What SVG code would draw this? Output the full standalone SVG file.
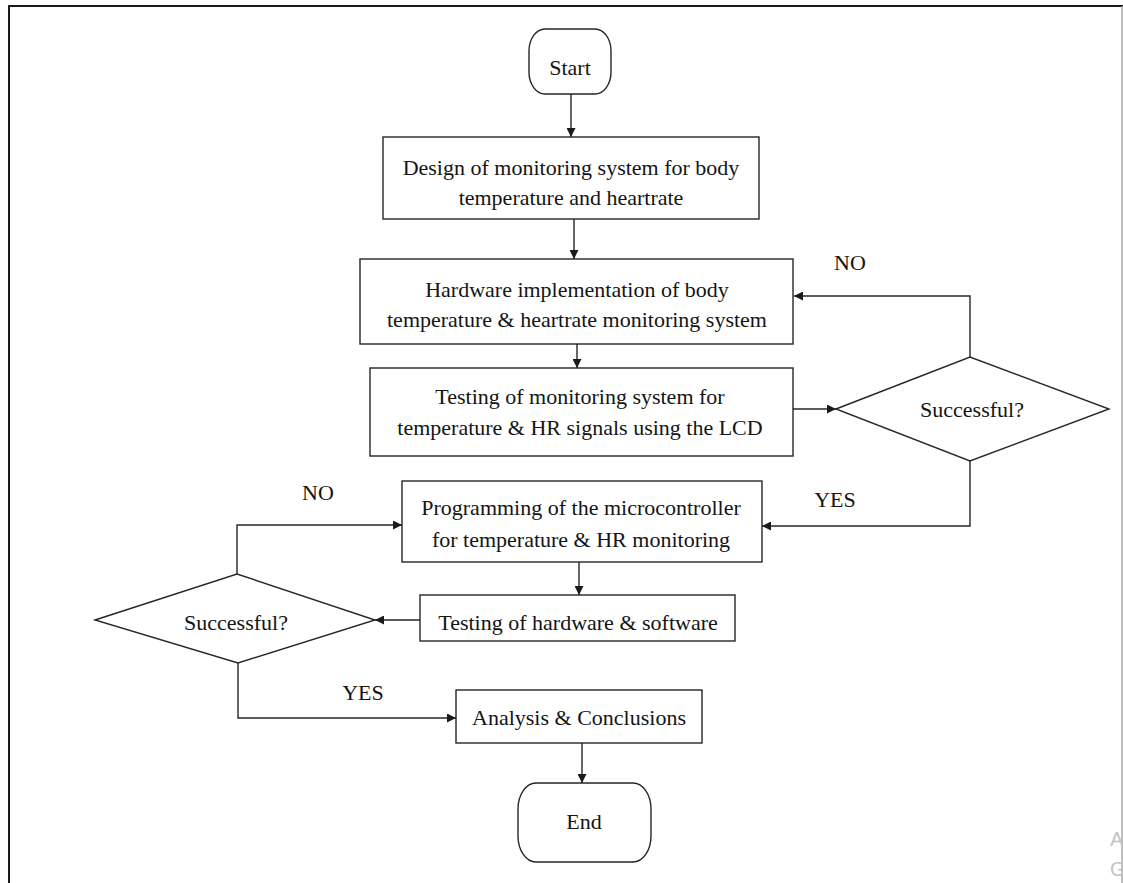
<svg xmlns="http://www.w3.org/2000/svg" width="1123" height="883" viewBox="0 0 1123 883">
  <defs>
    <marker id="arrow" viewBox="0 0 10 10" refX="10" refY="5" markerWidth="10" markerHeight="9" markerUnits="userSpaceOnUse" orient="auto">
      <path d="M0,0 L10,5 L0,10 Z" fill="#1a1a1a"/>
    </marker>
    <style>
      .shape { fill: #ffffff; stroke: #262626; stroke-width: 1.4; }
      .conn { fill: none; stroke: #262626; stroke-width: 1.4; }
      .label { font-family: "Liberation Serif", "Times New Roman", serif; font-size: 22px; fill: #141414; text-anchor: middle; }
      .wm { font-family: "Liberation Sans", Arial, sans-serif; font-size: 20px; fill: #c4c4c4; }
    </style>
  </defs>

  <rect x="0" y="0" width="1123" height="883" fill="#ffffff"/>

  <!-- page frame -->
  <g id="frame">
    <path d="M9,883 L9,6 L1123,6" fill="none" stroke="#1a1a1a" stroke-width="2"/>
    <line x1="1122" y1="6" x2="1122" y2="883" stroke="#a8a8a8" stroke-width="1.5"/>
  </g>

  <!-- connectors -->
  <g id="connectors">
    <line class="conn" x1="571" y1="94" x2="571" y2="137" marker-end="url(#arrow)"/>
    <line class="conn" x1="574" y1="219" x2="574" y2="259" marker-end="url(#arrow)"/>
    <line class="conn" x1="577" y1="344" x2="577" y2="368" marker-end="url(#arrow)"/>
    <line class="conn" x1="793" y1="409" x2="836" y2="409" marker-end="url(#arrow)"/>
    <polyline class="conn" points="970,357 970,296 794,296" marker-end="url(#arrow)"/>
    <polyline class="conn" points="970,461 970,526 762,526" marker-end="url(#arrow)"/>
    <line class="conn" x1="579" y1="562" x2="579" y2="595" marker-end="url(#arrow)"/>
    <line class="conn" x1="420" y1="620" x2="375" y2="620" marker-end="url(#arrow)"/>
    <polyline class="conn" points="237,574 237,525 402,525" marker-end="url(#arrow)"/>
    <polyline class="conn" points="238,663 238,718 456,718" marker-end="url(#arrow)"/>
    <line class="conn" x1="582" y1="743" x2="582" y2="783" marker-end="url(#arrow)"/>
    <text class="label" x="850" y="270">NO</text>
    <text class="label" x="835" y="507">YES</text>
    <text class="label" x="318" y="500">NO</text>
    <text class="label" x="363" y="700">YES</text>
  </g>

  <g id="start">
    <rect class="shape" x="529" y="29" width="82" height="65" rx="16" ry="22"/>
    <text class="label" x="570" y="75">Start</text>
  </g>

  <g id="design">
    <rect class="shape" x="383" y="137" width="376" height="82"/>
    <text class="label" x="571" y="175">Design of monitoring system for body</text>
    <text class="label" x="571" y="205">temperature and heartrate</text>
  </g>

  <g id="hardware">
    <rect class="shape" x="360" y="259" width="433" height="85"/>
    <text class="label" x="577" y="297">Hardware implementation of body</text>
    <text class="label" x="577" y="327">temperature &amp; heartrate monitoring system</text>
  </g>

  <g id="testing-lcd">
    <rect class="shape" x="370" y="368" width="423" height="88"/>
    <text class="label" x="580" y="404">Testing of monitoring system for</text>
    <text class="label" x="580" y="435">temperature &amp; HR signals using the LCD</text>
  </g>

  <g id="decision-hardware">
    <polygon class="shape" points="836,409 970,357 1109,409 970,461"/>
    <text class="label" x="972" y="417">Successful?</text>
  </g>

  <g id="programming">
    <rect class="shape" x="402" y="481" width="360" height="81"/>
    <text class="label" x="581" y="515">Programming of the microcontroller</text>
    <text class="label" x="581" y="547">for temperature &amp; HR monitoring</text>
  </g>

  <g id="testing-hw-sw">
    <rect class="shape" x="420" y="595" width="315" height="46"/>
    <text class="label" x="578" y="630">Testing of hardware &amp; software</text>
  </g>

  <g id="decision-software">
    <polygon class="shape" points="95,620 237,574 375,620 238,663"/>
    <text class="label" x="236" y="630">Successful?</text>
  </g>

  <g id="analysis">
    <rect class="shape" x="456" y="690" width="246" height="53"/>
    <text class="label" x="579" y="725">Analysis &amp; Conclusions</text>
  </g>

  <g id="end">
    <rect class="shape" x="518" y="783" width="133" height="79" rx="18" ry="26"/>
    <text class="label" x="584" y="829">End</text>
  </g>

  <!-- faint overlay lettering at the right edge -->
  <g id="overlay">
    <text class="wm" x="1110" y="846">A</text>
    <text class="wm" x="1110" y="876">G</text>
  </g>
</svg>
